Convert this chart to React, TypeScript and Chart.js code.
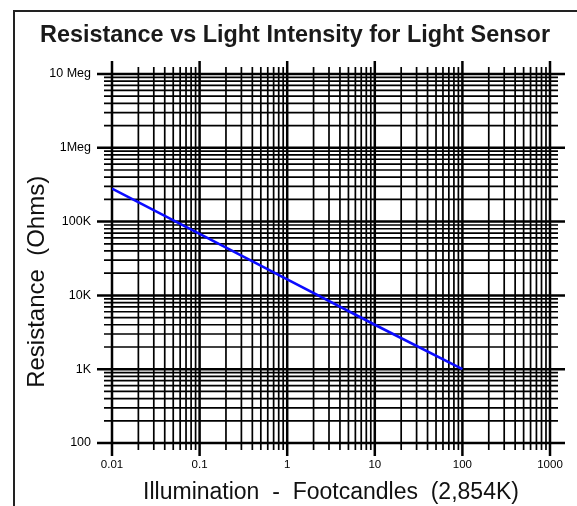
import React, { useEffect, useRef } from "react";
import { Chart, registerables } from "chart.js";

Chart.register(...registerables);

// ---- data ----
const illumination = [0.01, 0.1, 1, 10, 100];
const resistance = [280000, 68000, 16500, 4000, 1000];

const xTickValues = [0.01, 0.1, 1, 10, 100, 1000];
const xTickLabels = ["0.01", "0.1", "1", "10", "100", "1000"];
const yTickValues = [100, 1000, 10000, 100000, 1000000, 10000000];
const yTickLabels = ["100", "1K", "10K", "100K", "1Meg", "10 Meg"];

const chartTitle = "Resistance vs Light Intensity for Light Sensor";
const xAxisTitle = "Illumination  -  Footcandles  (2,854K)";
const yAxisTitle = "Resistance  (Ohms)";

const FONT = "'Liberation Sans', Arial, Helvetica, sans-serif";

const minorSteps = [1, 2, 3, 4, 5, 6, 7, 8, 9];

const logPaperPlugin = {
  id: "logPaper",
  beforeDraw(chart: any) {
    const ctx = chart.ctx;
    ctx.save();
    ctx.fillStyle = "#ffffff";
    ctx.fillRect(0, 0, chart.width, chart.height);
    ctx.strokeStyle = "#222222";
    ctx.lineWidth = 2;
    ctx.beginPath();
    ctx.moveTo(14, chart.height + 10);
    ctx.lineTo(14, 11);
    ctx.lineTo(chart.width + 10, 11);
    ctx.stroke();
    ctx.restore();
  },
  beforeDatasetsDraw(chart: any) {
    const { ctx, chartArea: a, scales } = chart;
    const xs = scales.x;
    const ys = scales.y;
    ctx.save();
    ctx.strokeStyle = "#000000";
    ctx.lineCap = "butt";
    const vline = (v: number, major: boolean) => {
      const px = xs.getPixelForValue(v);
      const ext = major ? 13 : 7;
      ctx.lineWidth = major ? 2.5 : 1.7;
      ctx.beginPath();
      ctx.moveTo(px, a.top - ext);
      ctx.lineTo(px, a.bottom + ext);
      ctx.stroke();
    };
    const hline = (v: number, major: boolean) => {
      const py = ys.getPixelForValue(v);
      const ext = major ? 15 : 8;
      ctx.lineWidth = major ? 2.5 : 1.7;
      ctx.beginPath();
      ctx.moveTo(a.left - ext, py);
      ctx.lineTo(a.right + ext, py);
      ctx.stroke();
    };
    for (let i = 0; i < xTickValues.length; i++) {
      const base = xTickValues[i];
      if (i === xTickValues.length - 1) {
        vline(base, true);
      } else {
        minorSteps.forEach((k) => vline(base * k, k === 1));
      }
    }
    for (let i = 0; i < yTickValues.length; i++) {
      const base = yTickValues[i];
      if (i === yTickValues.length - 1) {
        hline(base, true);
      } else {
        minorSteps.forEach((k) => hline(base * k, k === 1));
      }
    }
    ctx.restore();
  },
};

export default function App() {
  const canvasRef = useRef<HTMLCanvasElement | null>(null);

  useEffect(() => {
    document.body.style.margin = "0";
    const canvas = canvasRef.current;
    if (!canvas) return;
    Chart.defaults.font.family = FONT;
    Chart.defaults.color = "#000000";

    const chart = new Chart(canvas, {
      type: "line",
      data: {
        datasets: [
          {
            label: "Resistance",
            data: illumination.map((x, i) => ({ x, y: resistance[i] })),
            borderColor: "#0b0bff",
            backgroundColor: "#0b0bff",
            borderWidth: 2.6,
            pointRadius: 0,
            tension: 0,
            fill: false,
          },
        ],
      },
      options: {
        animation: false,
        responsive: false,
        maintainAspectRatio: false,
        layout: { padding: { left: 40, right: 27, top: 0, bottom: 0 } },
        plugins: {
          legend: { display: false },
          tooltip: { enabled: false },
          title: {
            display: true,
            text: chartTitle,
            color: "#1a1a1a",
            font: { size: 24, weight: "bold", family: FONT },
            padding: { top: 21, bottom: 24.2 },
          },
        },
        scales: {
          x: {
            type: "logarithmic",
            position: "bottom",
            min: 0.01,
            max: 1000,
            grid: { display: false, drawTicks: false },
            border: { display: false },
            afterBuildTicks: (s: any) => {
              s.ticks = xTickValues.map((v) => ({ value: v }));
            },
            afterFit: (s: any) => {
              s.height = 63;
              s.paddingLeft = 0;
              s.paddingRight = 0;
            },
            ticks: {
              autoSkip: false,
              maxRotation: 0,
              minRotation: 0,
              padding: 15,
              color: "#000000",
              font: { size: 11.5, family: FONT },
              callback: (_v: any, i: number) => xTickLabels[i],
            },
            title: {
              display: true,
              text: xAxisTitle,
              color: "#111111",
              font: { size: 23, family: FONT },
              padding: { top: 0, bottom: 0 },
            },
          },
          y: {
            type: "logarithmic",
            position: "left",
            min: 100,
            max: 10000000,
            grid: { display: false, drawTicks: false },
            border: { display: false },
            afterBuildTicks: (s: any) => {
              s.ticks = yTickValues.map((v) => ({ value: v }));
            },
            afterFit: (s: any) => {
              s.width = 72;
              s.paddingTop = 0;
              s.paddingBottom = 0;
            },
            ticks: {
              autoSkip: false,
              padding: 21,
              color: "#000000",
              font: { size: 12.5, family: FONT },
              callback: (_v: any, i: number) => yTickLabels[i],
            },
            title: {
              display: true,
              text: yAxisTitle + "       ",
              color: "#111111",
              font: { size: 24, family: FONT },
              padding: { top: -17.4, bottom: 0 },
            },
          },
        },
      },
      plugins: [logPaperPlugin],
    } as any);

    return () => {
      chart.destroy();
    };
  }, []);

  return (
    <div style={{ width: 577, height: 506, position: "relative" }}>
      <canvas ref={canvasRef} width={577} height={506} />
    </div>
  );
}
